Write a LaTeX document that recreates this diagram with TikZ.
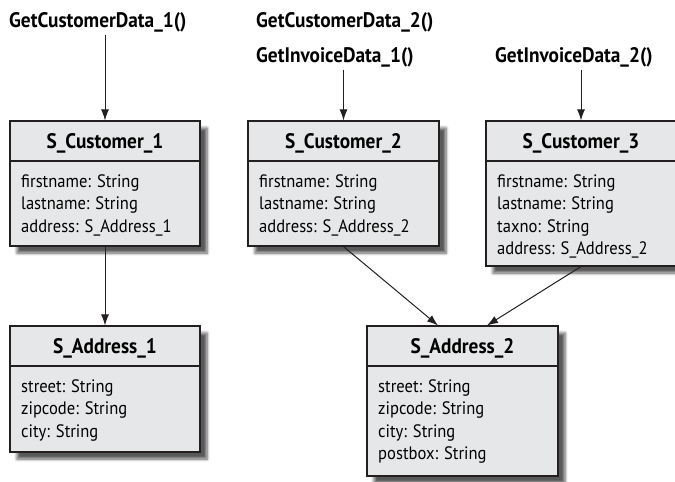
\documentclass[tikz,border=0pt]{standalone}
\usepackage{fontspec}
\setmainfont{PT Sans}[FakeStretch=0.92]
\usetikzlibrary{arrows.meta,shadows.blur}
\definecolor{boxgray}{HTML}{E6E7E8}
\definecolor{linegray}{HTML}{231F20}
\tikzset{
  classbox/.style={draw=linegray, line width=1.1pt, fill=boxgray, inner sep=0pt,
    blur shadow={shadow xshift=7pt, shadow yshift=-7pt, shadow blur steps=6,
      shadow blur radius=3pt, shadow opacity=65}},
  hdr/.style={anchor=base, inner sep=0pt, font=\fontsize{21}{25}\selectfont\bfseries},
  attr/.style={anchor=north west, inner sep=0pt, align=left,
    font=\fontsize{18}{22.5}\selectfont},
  call/.style={anchor=base west, inner sep=0pt, font=\fontsize{21}{25}\selectfont\bfseries},
  divider/.style={draw=linegray, line width=1.1pt},
  arr/.style={draw=linegray, line width=1pt, -{Latex[length=11pt,width=8pt]}},
}
\begin{document}
\begin{tikzpicture}[x=1pt,y=-1pt]
\useasboundingbox (0,0) rectangle (675,482);

% call labels
\node[call] (t1) at (9,27) {GetCustomerData\_1()};
\node[call] (t2) at (256,27) {GetCustomerData\_2()};
\node[call] (t3) at (256,62) {GetInvoiceData\_1()};
\node[call] (t4) at (495,62) {GetInvoiceData\_2()};

% boxes
\node[classbox, minimum width=190pt, minimum height=125pt] (c1) at (105,183.5) {};
\node[classbox, minimum width=190pt, minimum height=126pt] (a1) at (105,389) {};
\node[classbox, minimum width=191pt, minimum height=125pt] (c2) at (343.5,183.5) {};
\node[classbox, minimum width=190pt, minimum height=145pt] (c3) at (581,193.5) {};
\node[classbox, minimum width=191pt, minimum height=150pt] (a2) at (462.5,401) {};

% dividers
\draw[divider] (c1.west |- 0,161) -- (c1.east |- 0,161);
\draw[divider] (a1.west |- 0,366) -- (a1.east |- 0,366);
\draw[divider] (c2.west |- 0,161) -- (c2.east |- 0,161);
\draw[divider] (c3.west |- 0,161) -- (c3.east |- 0,161);
\draw[divider] (a2.west |- 0,366) -- (a2.east |- 0,366);

% headers
\node[hdr] (c1h) at (105,148) {S\_Customer\_1};
\node[hdr] (a1h) at (105,353) {S\_Address\_1};
\node[hdr] (c2h) at (343.5,148) {S\_Customer\_2};
\node[hdr] (c3h) at (581,148) {S\_Customer\_3};
\node[hdr] (a2h) at (462.5,353) {S\_Address\_2};

% attributes
\node[attr] (c1b) at (21,174) {firstname: String\\lastname: String\\address: S\_Address\_1};
\node[attr] (a1b) at (21,379) {street: String\\zipcode: String\\city: String};
\node[attr] (c2b) at (259,174) {firstname: String\\lastname: String\\address: S\_Address\_2};
\node[attr] (c3b) at (497,174) {firstname: String\\lastname: String\\taxno: String\\address: S\_Address\_2};
\node[attr] (a2b) at (378,379) {street: String\\zipcode: String\\city: String\\postbox: String};

% connectors
\draw[arr] ([yshift=-3pt]c1.north |- t1.south) -- (c1.north);
\draw[arr] ([yshift=-3pt]c2.north |- t3.south) -- (c2.north);
\draw[arr] ([yshift=-3pt]c3.north |- t4.south) -- (c3.north);
\draw[arr] (c1.south) -- (a1.north);
\draw[arr] (c2.south) -- ([xshift=-24.5pt]a2.north);
\draw[arr] (c3.south) -- ([xshift=24.5pt]a2.north);
\end{tikzpicture}
\end{document}
